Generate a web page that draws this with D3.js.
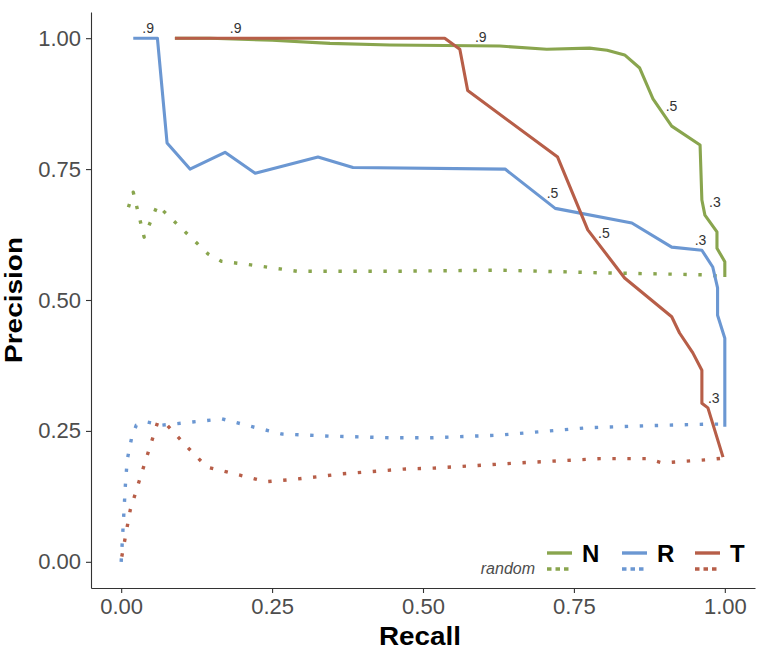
<!DOCTYPE html>
<html>
<head>
<meta charset="utf-8">
<script src="https://cdn.jsdelivr.net/npm/d3@7"></script>
<style>
  html, body { margin: 0; padding: 0; background: #fff; }
  svg { display: block; font-family: "Liberation Sans", Arial, Helvetica, sans-serif; }
</style>
</head>
<body>
<svg id="chart" width="762" height="650"></svg>
<script>
// ---------- data ----------
const xTicks = [0, 0.25, 0.5, 0.75, 1.0];
const yTicks = [0, 0.25, 0.5, 0.75, 1.0];

const nRecall    = [0.089, 0.147, 0.25, 0.346, 0.445, 0.627, 0.705, 0.776, 0.805, 0.834, 0.859, 0.881, 0.912, 0.959, 0.962, 0.967, 0.987, 0.987, 1.0, 1.0];
const nPrecision = [1.0, 1.0, 0.996, 0.99, 0.987, 0.985, 0.979, 0.981, 0.977, 0.968, 0.943, 0.884, 0.832, 0.796, 0.691, 0.662, 0.630, 0.599, 0.573, 0.544];

const rRecall    = [0.02, 0.06, 0.076, 0.114, 0.172, 0.222, 0.326, 0.384, 0.636, 0.719, 0.846, 0.912, 0.962, 0.980, 0.988, 0.988, 1.0, 1.0];
const rPrecision = [1.0, 1.0, 0.80, 0.75, 0.782, 0.742, 0.773, 0.753, 0.75, 0.675, 0.647, 0.601, 0.595, 0.563, 0.523, 0.471, 0.427, 0.258];

const tRecall    = [0.089, 0.536, 0.561, 0.574, 0.723, 0.773, 0.834, 0.912, 0.925, 0.947, 0.962, 0.962, 0.972, 0.997];
const tPrecision = [1.0, 1.0, 0.979, 0.90, 0.773, 0.634, 0.542, 0.468, 0.437, 0.399, 0.366, 0.303, 0.294, 0.20];

const nRandRecall    = [0.012, 0.020, 0.038, 0.060, 0.144, 0.166, 0.215, 0.291, 0.341, 0.462, 0.627, 0.793, 0.972, 1.0];
const nRandPrecision = [0.677, 0.706, 0.620, 0.681, 0.588, 0.574, 0.567, 0.555, 0.555, 0.555, 0.557, 0.552, 0.548, 0.544];

const rRandRecall    = [0, 0.007, 0.010, 0.017, 0.025, 0.043, 0.068, 0.118, 0.167, 0.217, 0.267, 0.346, 0.445, 0.517, 0.627, 0.772, 0.876, 0.975, 1.0];
const rRandPrecision = [0.0, 0.147, 0.195, 0.235, 0.261, 0.267, 0.261, 0.267, 0.273, 0.258, 0.244, 0.240, 0.237, 0.237, 0.242, 0.256, 0.260, 0.263, 0.263];

const tRandRecall    = [0.001, 0.015, 0.03, 0.045, 0.06, 0.073, 0.108, 0.142, 0.167, 0.24, 0.291, 0.366, 0.467, 0.518, 0.661, 0.793, 0.871, 0.896, 0.972, 0.997];
const tRandPrecision = [0.01, 0.099, 0.155, 0.21, 0.265, 0.265, 0.221, 0.181, 0.174, 0.153, 0.158, 0.168, 0.177, 0.179, 0.189, 0.197, 0.197, 0.189, 0.195, 0.198];

// threshold labels (text anchor in data units)
const labelText      = [".9", ".9", ".9", ".5", ".5", ".5", ".3", ".3", ".3"];
const labelRecall    = [0.035, 0.180, 0.586, 0.902, 0.705, 0.790, 0.974, 0.950, 0.972];
const labelPrecision = [1.010, 1.010, 0.992, 0.861, 0.695, 0.618, 0.677, 0.605, 0.303];

const seriesNames  = ["N", "R", "T"];
const seriesColors = ["#89A54E", "#6B97D2", "#B75E48"];

// ---------- scales ----------
const svg = d3.select("#chart");
const x = d3.scaleLinear().domain([-0.05, 1.05]).range([91, 755]);
const y = d3.scaleLinear().domain([-0.05, 1.05]).range([588, 12]);

const zip = (a, b) => a.map((v, i) => [v, b[i]]);
const line = d3.line().x(d => x(d[0])).y(d => y(d[1]));

const solid = [zip(nRecall, nPrecision), zip(rRecall, rPrecision), zip(tRecall, tPrecision)];
const rand  = [zip(nRandRecall, nRandPrecision), zip(rRandRecall, rRandPrecision), zip(tRandRecall, tRandPrecision)];

// random (dotted) lines
rand.forEach((pts, i) => {
  svg.append("path").attr("d", line(pts))
    .attr("fill", "none").attr("stroke", seriesColors[i])
    .attr("stroke-width", 3.4).attr("stroke-dasharray", "3.4,11.6")
    .attr("stroke-linecap", "butt").attr("stroke-linejoin", "round");
});
// solid lines
solid.forEach((pts, i) => {
  svg.append("path").attr("d", line(pts))
    .attr("fill", "none").attr("stroke", seriesColors[i])
    .attr("stroke-width", 3.1).attr("stroke-linejoin", "round");
});

// threshold labels
svg.append("g").selectAll("text")
  .data(labelText.map((t, i) => ({t, r: labelRecall[i], p: labelPrecision[i]})))
  .join("text")
  .attr("x", d => x(d.r)).attr("y", d => y(d.p))
  .attr("font-size", 14).attr("fill", "#333")
  .text(d => d.t);

// ---------- axes ----------
const xAxis = svg.append("g").attr("transform", "translate(0,588)")
  .call(d3.axisBottom(x).tickValues(xTicks).tickFormat(d3.format(".2f")).tickSize(5).tickPadding(5).tickSizeOuter(0));
const yAxis = svg.append("g").attr("transform", "translate(91,0)")
  .call(d3.axisLeft(y).tickValues(yTicks).tickFormat(d3.format(".2f")).tickSize(5).tickPadding(5).tickSizeOuter(0));
[xAxis, yAxis].forEach(g => {
  g.select(".domain").attr("stroke", "#333").attr("stroke-width", 1.1);
  g.selectAll(".tick line").attr("stroke", "#333").attr("stroke-width", 1.1);
  g.selectAll(".tick text").attr("fill", "#4D4D4D").attr("font-size", 22)
    .attr("font-family", "'Liberation Sans', Arial, sans-serif");
});

// axis titles
svg.append("text").attr("x", 420).attr("y", 645).attr("text-anchor", "middle")
  .attr("font-size", 25).attr("font-weight", "bold").attr("fill", "#000")
  .attr("textLength", 82).attr("lengthAdjust", "spacingAndGlyphs")
  .text("Recall");
svg.append("text").attr("transform", "translate(22,300) rotate(-90)").attr("text-anchor", "middle")
  .attr("font-size", 23).attr("font-weight", "bold").attr("fill", "#000")
  .attr("textLength", 126).attr("lengthAdjust", "spacingAndGlyphs")
  .text("Precision");

// ---------- legend ----------
const legX = [547, 622, 695];
seriesNames.forEach((name, i) => {
  const lx = legX[i];
  svg.append("line").attr("x1", lx).attr("x2", lx + 25).attr("y1", 553).attr("y2", 553)
    .attr("stroke", seriesColors[i]).attr("stroke-width", 3.4);
  svg.append("line").attr("x1", lx).attr("x2", lx + 25).attr("y1", 569).attr("y2", 569)
    .attr("stroke", seriesColors[i]).attr("stroke-width", 3.4).attr("stroke-dasharray", "4.5,4");
  svg.append("text").attr("x", lx + 35).attr("y", 562)
    .attr("font-size", 24).attr("font-weight", "bold").attr("fill", "#000").text(name);
});
svg.append("text").attr("x", 535).attr("y", 574).attr("text-anchor", "end")
  .attr("font-size", 16).attr("font-style", "italic").attr("fill", "#4D4D4D").text("random");
</script>
</body>
</html>
